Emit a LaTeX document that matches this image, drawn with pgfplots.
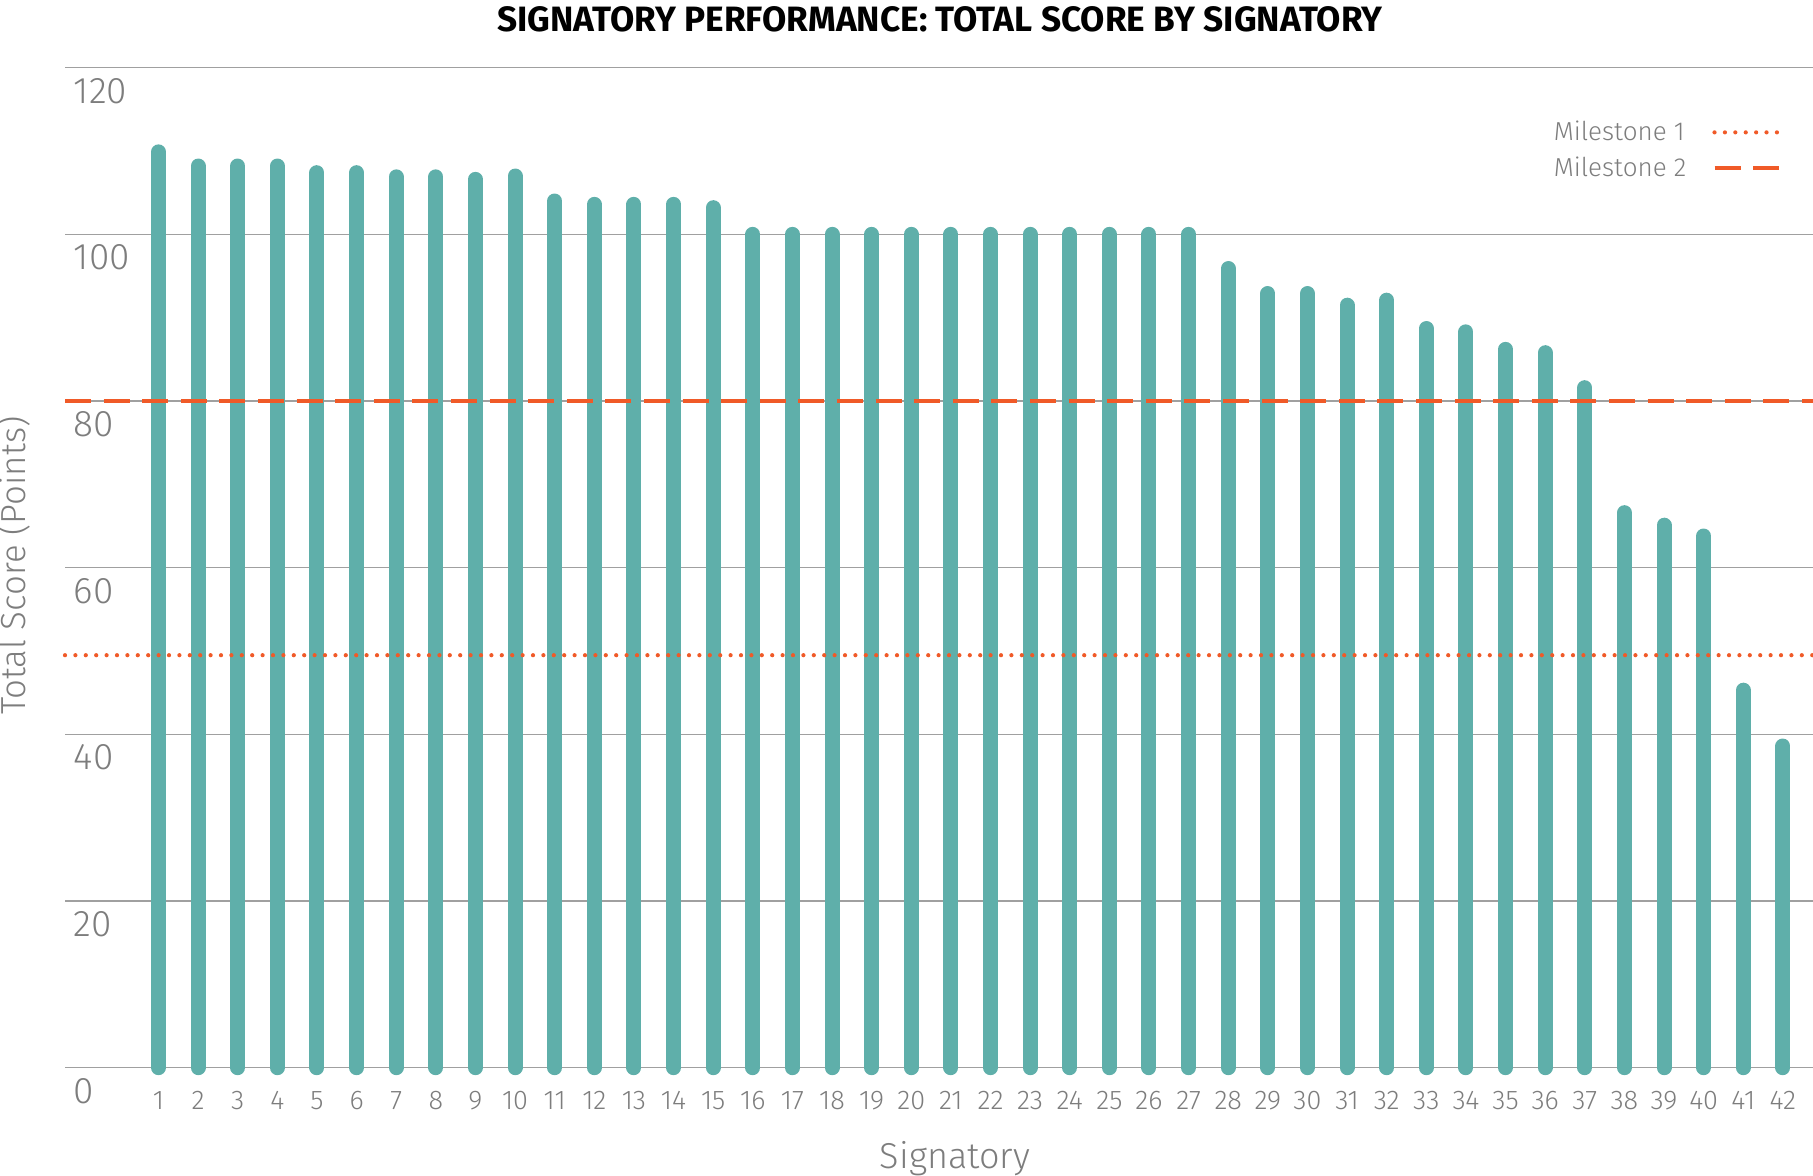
\documentclass[border=0pt]{standalone}
\usepackage{pgfplots}
\pgfplotsset{compat=1.18}
\usepackage{pgfplotstable}
\usepackage{fontspec}
\setmainfont{Fira Sans}
\newfontfamily\firalight{Fira Sans}[UprightFont=* Light]
\definecolor{barteal}{RGB}{95,175,170}
\definecolor{mileorange}{RGB}{240,90,40}
\definecolor{gridgray}{RGB}{160,160,160}
\definecolor{txtgray}{RGB}{125,125,125}

\pgfplotstableread{
x y
1 109.9
2 108.2
3 108.2
4 108.2
5 107.4
6 107.4
7 106.9
8 106.9
9 106.6
10 107.0
11 104.0
12 103.6
13 103.6
14 103.6
15 103.2
16 100
17 100
18 100
19 100
20 100
21 100
22 100
23 100
24 100
25 100
26 100
27 100
28 95.9
29 92.9
30 92.9
31 91.5
32 92.1
33 88.7
34 88.3
35 86.2
36 85.8
37 81.6
38 66.6
39 65.1
40 63.8
41 45.3
42 38.6
}\scores

\begin{document}
\begin{tikzpicture}
\useasboundingbox (-32.5pt,-54.15pt) rectangle (874pt,533.85pt);
\begin{axis}[
  at={(0pt,0pt)}, anchor=south west,
  scale only axis, width=874pt, height=500pt,
  xmin=-1.36, xmax=42.76, ymin=0, ymax=120,
  clip=false,
  axis line style={draw=none},
  tick style={draw=none},
  ytick={0,20,...,120},
  xtick={1,...,42},
  ymajorgrids, grid style={gridgray, line width=0.75pt},
  /pgf/number format/assume math mode=true,
  yticklabel style={font=\firalight\fontsize{18.5}{20}\selectfont, text=txtgray, anchor=north west, inner sep=0pt, xshift=4.25pt, yshift=-5pt},
  xticklabel style={font=\firalight\fontsize{13.5}{15}\selectfont, text=txtgray, anchor=north, inner sep=0pt, yshift=-11.5pt},
  legend plot pos=right,
  legend cell align=left,
  legend image code/.code={\draw[#1] (0pt,0pt) -- (34pt,0pt);},
  legend style={draw=none, fill=none, at={(0.984,0.951)}, anchor=north east,
    font=\firalight\fontsize{13}{15}\selectfont, text=txtgray,
    column sep=11pt, row sep=2.5pt, inner sep=0pt},
]
\addplot[ycomb, barteal, line width=7.5pt, line cap=round, forget plot] table[x=x, y=y] {\scores};
\addplot[mileorange, line width=2.1pt, line cap=round, dash pattern=on 0pt off 5.2pt] coordinates {(-1.36,49.5) (42.76,49.5)};
\addlegendentry{Milestone 1}
\addplot[mileorange, line width=1.6pt, dash pattern=on 13pt off 6.3pt] coordinates {(-1.36,80) (42.76,80)};
\addlegendentry{Milestone 2}
\end{axis}
\node[anchor=base, font=\bfseries\fontsize{17.6}{20}\selectfont] at (437.5pt,518pt) {SIGNATORY PERFORMANCE: TOTAL SCORE BY SIGNATORY};
\node[anchor=base, font=\firalight\fontsize{18}{20}\selectfont, text=txtgray] at (445pt,-50.2pt) {Signatory};
\node[anchor=base, rotate=90, font=\firalight\fontsize{17.4}{20}\selectfont, text=txtgray] at (-19.8pt,251pt) {Total Score (Points)};
\end{tikzpicture}
\end{document}
